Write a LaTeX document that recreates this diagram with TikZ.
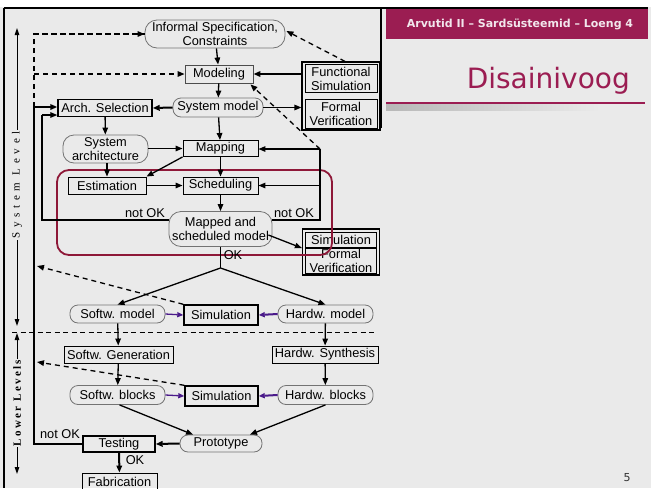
\documentclass[tikz,border=0pt]{standalone}
\usepackage{fontspec}
\setmainfont{Liberation Sans}
\newfontfamily\dejavu{DejaVu Sans}
\newfontfamily\sideserif[LetterSpace=43]{Liberation Serif}
\newfontfamily\sideserifb[LetterSpace=21]{Liberation Serif}
\usetikzlibrary{arrows.meta}
\definecolor{bg}{HTML}{EAEAEA}
\definecolor{slidered}{HTML}{9B1D52}
\definecolor{framered}{HTML}{8E1838}
\definecolor{vio}{HTML}{4A1A8A}
\definecolor{hdrtext}{HTML}{F2E6EC}
\tikzset{
  lbl/.style={font=\fontsize{12.8}{14}\selectfont, inner sep=0pt, align=center},
  rbox/.style={lbl, draw=black, line width=0.9pt, rectangle},
  rboxb/.style={rbox, line width=1.4pt},
  sbox/.style={lbl, draw=black!55, line width=0.8pt, rounded corners=8pt},
  arr/.style={line width=1.3pt, -{Triangle[length=7pt,width=5.5pt]}},
  tarr/.style={line width=2pt, -{Triangle[length=7pt,width=5.5pt]}},
  tline/.style={line width=2pt},
  darr/.style={line width=1.3pt, dash pattern=on 5pt off 4pt, -{Triangle[length=7pt,width=5.5pt]}},
  dline/.style={line width=1.6pt, dash pattern=on 5pt off 4pt},
  varr/.style={line width=1.3pt, draw=vio, -{Triangle[length=6pt,width=5pt]}},
  varrb/.style={line width=2pt, draw=vio, -{Triangle[length=6pt,width=5pt]}},
  side/.style={fill=bg, inner sep=1pt, rotate=90},
  sarr/.style={line width=1pt, -{Triangle[length=7pt,width=4.5pt]}},
}
\begin{document}
\begin{tikzpicture}[x=1pt,y=-1pt]
\useasboundingbox (0,0) rectangle (651,488);
\fill[bg] (0,0) rectangle (651,488);
\fill[white] (0,0) rectangle (651,7);
% slide header
\fill[slidered] (386,9) rectangle (648,39);
\draw[line width=2pt] (4,8) -- (648,8);
\draw[line width=1.5pt] (381,8) -- (381,128);
\draw[line width=2pt] (4,8) -- (4,488);
\node[anchor=base, text=hdrtext, font=\dejavu\bfseries\fontsize{11}{11}\selectfont, inner sep=0pt] (hdr) at (520,27) {Arvutid II – Sardsüsteemid – Loeng 4};
\node[anchor=base east, text=slidered, font=\dejavu\fontsize{28}{28}\selectfont, inner sep=0pt] (title) at (630,88) {Disainivoog};
\shade[left color=black!28, right color=bg] (386,104) rectangle (600,110);
\draw[slidered, line width=2pt] (386,103) -- (645,103);
\node[anchor=base, text=black!80, font=\dejavu\fontsize{11}{11}\selectfont, inner sep=0pt] (pnum) at (627,481) {5};

% side labels
\coordinate (sl) at (17,185);
\coordinate (sltop) at (17,28);
\coordinate (slbot) at (17,326);
\draw[sarr] (sl) -- (sltop);
\draw[sarr] (sl) -- (slbot);
\node[side, font=\sideserif\fontsize{11}{11}\selectfont] (syslev) at (sl) {System Level};
\coordinate (ll) at (17,403);
\coordinate (lltop) at (17,333);
\coordinate (llbot) at (17,474);
\draw[sarr] (ll) -- (lltop);
\draw[sarr] (ll) -- (llbot);
\node[side, font=\sideserifb\bfseries\fontsize{11}{11}\selectfont] (lowlev) at (ll) {Lower Levels};
% level separator
\coordinate (sepl) at (12,332);
\coordinate (sepr) at (375,332);
\draw[line width=1pt, dash pattern=on 5pt off 3.5pt] (sepl) -- (sepr);

% nodes
\node[sbox, minimum width=140pt, minimum height=28pt, rounded corners=12pt] (spec) at (215,34) {Informal Specification,\\Constraints};
\node[rbox, draw=black!70, minimum width=68pt, minimum height=18pt] (model) at (219,74) {Modeling};
\node[rbox, line width=1.2pt, minimum width=78pt, minimum height=68pt] (fsbox) at (341,96) {};
\node[rbox, minimum width=72pt, minimum height=28pt] (fsim) at (341,78.5) {Functional\\Simulation};
\node[rbox, minimum width=72pt, minimum height=29pt] (fver) at (341,113.5) {Formal\\Verification};
\node[sbox, minimum width=90pt, minimum height=19pt] (sysm) at (218,107.5) {System model};
\node[rboxb, minimum width=94pt, minimum height=17pt] (arch) at (105,108) {Arch. Selection};
\node[sbox, minimum width=85pt, minimum height=28pt, rounded corners=11pt] (sysarch) at (105.5,149) {System\\architecture};
\node[rbox, minimum width=75pt, minimum height=16pt] (mapping) at (220.5,148.5) {Mapping};
\node[rbox, minimum width=78pt, minimum height=17pt] (est) at (107,185.5) {Estimation};
\node[rbox, minimum width=75pt, minimum height=17pt] (sched) at (220.5,185.5) {Scheduling};
\node[sbox, minimum width=103pt, minimum height=35pt, rounded corners=12pt] (msm) at (220.5,229) {Mapped and\\scheduled model};
\node[rbox, line width=1.2pt, minimum width=77pt, minimum height=46pt] (sbox2) at (341,252) {};
\node[rbox, minimum width=71pt, minimum height=15pt] (sim2) at (341,239.5) {Simulation};
\node[rbox, minimum width=71pt, minimum height=25pt] (fver2) at (341,261) {Formal\\Verification};

\node[sbox, minimum width=95pt, minimum height=18pt] (swm) at (117.5,314) {Softw. model};
\node[rboxb, minimum width=74pt, minimum height=20pt] (sim1) at (221,315) {Simulation};
\node[sbox, minimum width=95pt, minimum height=18pt] (hwm) at (325.5,314) {Hardw. model};
\node[rbox, minimum width=109pt, minimum height=17pt] (swg) at (118.5,354.5) {Softw. Generation};
\node[rbox, minimum width=106pt, minimum height=17pt] (hws) at (325,354.5) {Hardw. Synthesis};
\node[sbox, minimum width=95pt, minimum height=19pt] (swb) at (117.5,395) {Softw. blocks};
\node[rboxb, minimum width=73pt, minimum height=20pt] (sim3) at (221.5,396) {Simulation};
\node[sbox, minimum width=95pt, minimum height=19pt] (hwb) at (325.5,395) {Hardw. blocks};
\node[sbox, minimum width=82pt, minimum height=17pt] (proto) at (221,443.5) {Prototype};
\node[rboxb, minimum width=72pt, minimum height=16pt] (test) at (119,444) {Testing};
\node[rbox, minimum width=75pt, minimum height=18pt] (fab) at (119.5,482) {Fabrication};

% highlight frame
\draw[framered, line width=1.8pt, rounded corners=12pt] (57,170) rectangle (332,255);

% labels
\node[lbl] (nok1) at (145,213) {not OK};
\node[lbl] (nok2) at (294,213) {not OK};
\node[lbl] (ok1) at (233,255) {OK};
\node[lbl] (nok3) at (60,434) {not OK};
\node[lbl] (ok2) at (135,460) {OK};

% coordinates
\coordinate (lb) at (34,107);
\coordinate (lb2) at (42,115);
\coordinate (rc) at (320,149);
\coordinate (fork) at (220.5,268);
\coordinate (dl1) at (37,266);
\coordinate (dl2) at (37,362);

% top area
\draw[arr] (spec) -- (model);
\draw[arr] (model) -- (sysm);
\draw[tarr] (fsbox.west |- model.east) -- (model.east);
\draw[arr] (sysm.east) -- (sysm.east -| fsbox.west);
\draw[tarr] (sysm.west) -- (arch.east);
\draw[darr] (fsbox.north) ++(4,0) -- ([xshift=1pt,yshift=3pt]spec.east);
\draw[darr] (rc) -- ([xshift=-3pt,yshift=-1pt]model.south east);
% left feedback
\draw[dline] (lb) |- (spec.west);
\draw[darr] (spec.west -| lb) -- (spec.west);
\draw[darr] (model.west -| lb) -- (model.west);
\draw[tline] (test.west) -| (lb);
\draw[tarr] (lb) -- (lb -| arch.west);
\draw[tline] ([yshift=9pt]msm.west) -| (lb2);
\draw[arr] (lb2) -- (lb2 -| arch.west);
% middle
\draw[arr] (arch) -- (sysarch);
\draw[arr] (sysm) -- (mapping);
\draw[arr] (sysarch.east |- mapping.west) -- (mapping.west);
\draw[arr] (mapping.south west) -- (est.north east);
\draw[arr] (sysarch.south -| est.north) -- (est.north);
\draw[arr] (est) -- (sched);
\draw[arr] (mapping) -- (sched);
\draw[arr] (sched) -- (msm);
% right feedback
\draw[tline] ([yshift=9pt]msm.east) -| (rc);
\draw[arr] (rc) -- (rc -| mapping.east);
\draw[arr] (sched.east -| rc) -- (sched.east);
\draw[arr] ([xshift=-4pt,yshift=-6pt]msm.east) -- (sbox2.west |- fver2.north);
% fork
\draw[line width=1.3pt] (msm.south) -- (fork);
\draw[arr] (fork) -- (swm.north);
\draw[arr] (fork) -- (hwm.north);
% simulations
\draw[darr] (sim1.north west) -- (dl1);
\draw[varr] (swm.east) -- (sim1.west);
\draw[varrb] (hwm.west) -- (sim1.east);
\draw[arr] (swm) -- (swg);
\draw[arr] (hwm) -- (hws);
\draw[arr] (swg) -- (swb);
\draw[arr] (hws) -- (hwb);
\draw[darr] (sim3.north west) -- (dl2);
\draw[varr] (swb.east) -- (sim3.west);
\draw[varrb] (hwb.west) -- (sim3.east);
\draw[arr] ([xshift=2pt]swb.south) -- ([xshift=-28pt]proto.north);
\draw[arr] ([xshift=0pt]hwb.south) -- ([xshift=29pt]proto.north);
\draw[tarr] (proto.west) -- (test.east);
\draw[tarr] (test) -- (fab);
\end{tikzpicture}
\end{document}
